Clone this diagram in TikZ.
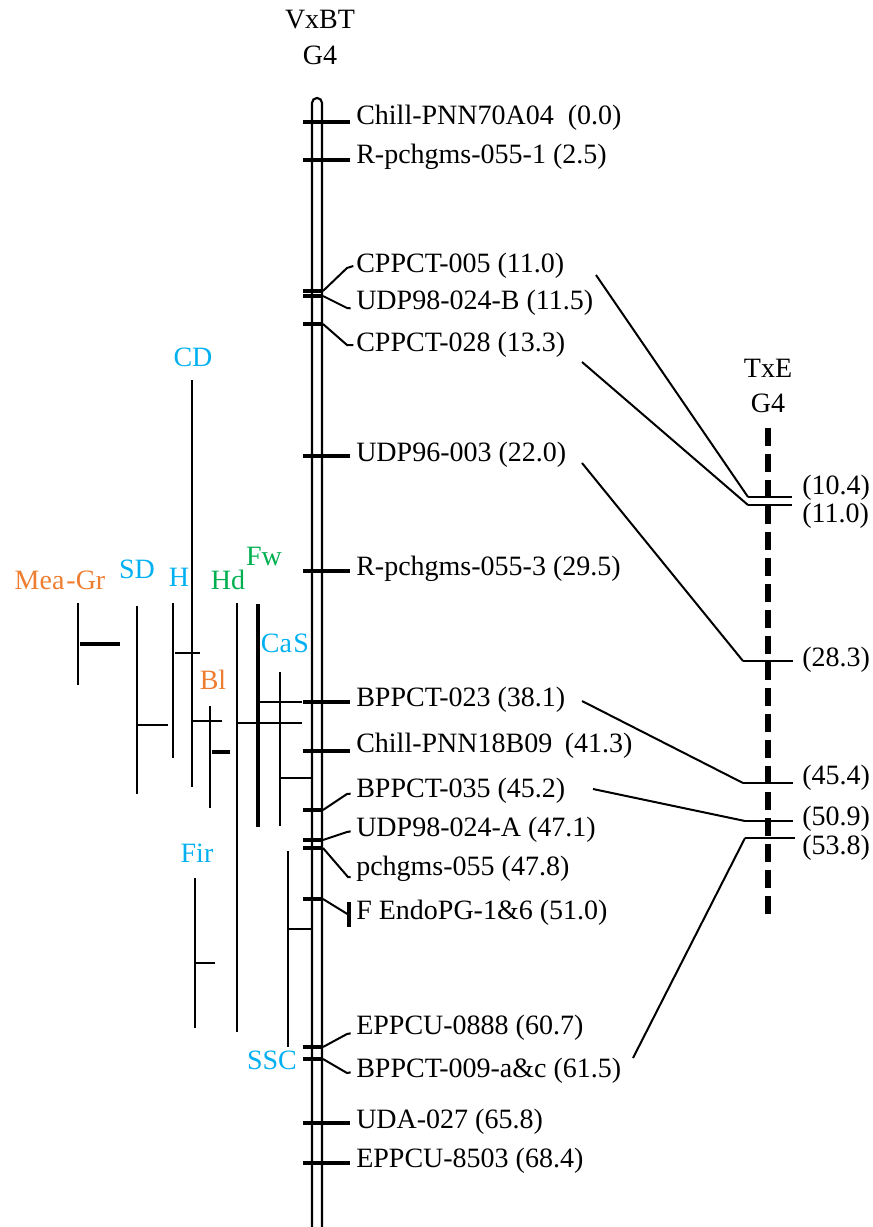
\documentclass[tikz,border=0pt]{standalone}
\usepackage{fontspec}
\setmainfont{Liberation Serif}
\definecolor{qorange}{RGB}{237,125,49}
\definecolor{qcyan}{RGB}{0,176,240}
\definecolor{qgreen}{RGB}{0,176,80}
\begin{document}
\begin{tikzpicture}[x=0.75pt,y=-0.75pt,
  txt/.style={inner sep=0pt,font=\fontsize{21}{24}\selectfont},
  lbl/.style={txt,anchor=west},
  chrom/.style={line width=1.6pt},
  tick/.style={line width=2.6pt},
  link/.style={line width=1.5pt},
  bar/.style={line width=1.7pt},
  thickbar/.style={line width=2.8pt},
  txechrom/.style={line width=5pt,dash pattern=on 13.5pt off 6pt},
  txetick/.style={line width=1.9pt}]
\useasboundingbox (0,0) rectangle (872,1227);

% ---------- map titles ----------
\node[txt] (vxbt) at (320,20) {VxBT};
\node[txt] (vxbtg) at (320,55) {G4};
\node[txt] (txe) at (768,368) {TxE};
\node[txt] (txeg) at (768,403) {G4};

% ---------- VxBT linkage group ----------
\draw[chrom,rounded corners=3.7pt] (312,1232) -- (312,98) -- (322,98) -- (322,1232);

% marker names
\node[lbl] (m1)  at (356,118)  {Chill-PNN70A04\hspace{0.25em} (0.0)};
\node[lbl] (m2)  at (356,157)  {R-pchgms-055-1 (2.5)};
\node[lbl] (m3)  at (356,266)  {CPPCT-005 (11.0)};
\node[lbl] (m4)  at (356,303)  {UDP98-024-B (11.5)};
\node[lbl] (m5)  at (356,345)  {CPPCT-028 (13.3)};
\node[lbl] (m6)  at (356,455)  {UDP96-003 (22.0)};
\node[lbl] (m7)  at (356,569)  {R-pchgms-055-3 (29.5)};
\node[lbl] (m8)  at (356,700)  {BPPCT-023 (38.1)};
\node[lbl] (m9)  at (356,746)  {Chill-PNN18B09\hspace{0.2em} (41.3)};
\node[lbl] (m10) at (356,791)  {BPPCT-035 (45.2)};
\node[lbl] (m11) at (356,830)  {UDP98-024-A (47.1)};
\node[lbl] (m12) at (356,869)  {pchgms-055 (47.8)};
\node[lbl] (m13) at (356,913)  {F EndoPG-1\&6 (51.0)};
\node[lbl] (m14) at (356,1028) {EPPCU-0888 (60.7)};
\node[lbl] (m15) at (356,1071) {BPPCT-009-a\&c (61.5)};
\node[lbl] (m16) at (356,1122) {UDA-027 (65.8)};
\node[lbl] (m17) at (356,1161) {EPPCU-8503 (68.4)};

% straight ticks
\draw[tick] (303,122) -- (350,122);
\draw[tick] (303,160) -- (350,160);
\draw[tick] (303,456) -- (350,456);
\draw[tick] (303,571) -- (350,571);
\draw[tick] (303,702) -- (350,702);
\draw[tick] (303,751) -- (350,751);
\draw[tick] (303,1123) -- (350,1123);
\draw[tick] (303,1163) -- (350,1163);

% ticks with bent leaders
\draw[tick] (303,291) -- (323,291);
\draw[tick] (303,296) -- (323,296);
\draw[tick] (303,324) -- (323,324);
\draw[tick] (303,810) -- (323,810);
\draw[tick] (303,840) -- (323,840);
\draw[tick] (303,848) -- (323,848);
\draw[tick] (303,899) -- (323,899);
\draw[tick] (303,1047) -- (323,1047);
\draw[tick] (303,1059) -- (323,1059);
\draw[link] (323,291) -- (347,268) -- ([xshift=-2pt]m3.west);
\draw[link] (323,296) -- (347,308) -- ([xshift=-4pt,yshift=-4pt]m4.west);
\draw[link] (323,324) -- (347,345) -- ([xshift=-2pt]m5.west);
\draw[link] (323,810) -- (347,794) -- ([xshift=-4pt,yshift=-2pt]m10.west);
\draw[link] (323,840) -- (347,832) -- ([xshift=-4pt,yshift=-1pt]m11.west);
\draw[link] (323,848) -- (348,877) -- ([xshift=-4pt,yshift=-6pt]m12.west);
\draw[link] (323,899) -- (349,915);
\draw[thickbar] (349,902) -- (349,927);
\draw[link] (323,1047) -- (347,1034) -- ([xshift=-4pt,yshift=-4pt]m14.west);
\draw[link] (323,1059) -- (347,1073) -- ([xshift=-4pt,yshift=-1pt]m15.west);

% ---------- QTL intervals ----------
\node[txt,text=qorange] (qmea) at (60,580) {Mea\kern1.5pt-Gr};
\node[txt,text=qcyan]   (qsd)  at (137,569) {SD};
\node[txt,text=qcyan]   (qh)   at (179,577) {H};
\node[txt,text=qcyan]   (qcd)  at (193,357) {CD};
\node[txt,text=qorange] (qbl)  at (213,680) {Bl};
\node[txt,text=qgreen]  (qhd)  at (228,580) {Hd};
\node[txt,text=qgreen]  (qfw)  at (264,556) {Fw};
\node[txt,text=qcyan]   (qcas) at (285,643) {Ca\kern1pt S};
\node[txt,text=qcyan]   (qfir) at (197,853) {Fir};
\node[txt,text=qcyan]   (qssc) at (272,1060) {SSC};

\draw[bar] (78,603) -- (78,685);
\draw[thickbar] (80,644) -- (120,644);
\draw[bar] (137,606) -- (137,794);
\draw[bar] (137,725) -- (168,725);
\draw[bar] (173,603) -- (173,758);
\draw[bar] (175,653) -- (200,653);
\draw[bar] (192,380) -- (192,787);
\draw[bar] (192,721) -- (222,721);
\draw[bar] (210,706) -- (210,808);
\draw[thickbar] (212,752) -- (230,752);
\draw[bar] (237,603) -- (237,1032);
\draw[bar] (238,723) -- (302,723);
\draw[thickbar] (258,604) -- (258,827);
\draw[bar] (259,702) -- (302,702);
\draw[bar] (280,672) -- (280,826);
\draw[bar] (281,778) -- (312,778);
\draw[bar] (195,878) -- (195,1028);
\draw[bar] (195,963) -- (215,963);
\draw[bar] (288,851) -- (288,1047);
\draw[bar] (289,929) -- (312,929);

% ---------- TxE linkage group ----------
\draw[txechrom] (768,428) -- (768,922);

\coordinate (t1) at (748,497);
\coordinate (t2) at (748,505);
\coordinate (t3) at (743,661);
\coordinate (t4) at (743,783);
\coordinate (t5) at (745,821);
\coordinate (t6) at (745,838);

\draw[txetick] (t1) -- (792,497);
\draw[txetick] (t2) -- (792,505);
\draw[txetick] (t3) -- (793,661);
\draw[txetick] (t4) -- (793,783);
\draw[txetick] (t5) -- (793,821);
\draw[txetick] (t6) -- (795,838);

\node[lbl] (p1) at (802,488) {(10.4)};
\node[lbl] (p2) at (802,516) {(11.0)};
\node[lbl] (p3) at (802,660) {(28.3)};
\node[lbl] (p4) at (802,778) {(45.4)};
\node[lbl] (p5) at (802,819) {(50.9)};
\node[lbl] (p6) at (802,848) {(53.8)};

% ---------- links between the two maps ----------
\coordinate (s3)  at (596,275);
\coordinate (s5)  at (582,362);
\coordinate (s6)  at (582,463);
\coordinate (s8)  at (582,701);
\coordinate (s10) at (593,789);
\coordinate (s15) at (633,1058);
\draw[link] (s3) -- (t1);
\draw[link] (s5) -- (t2);
\draw[link] (s6) -- (t3);
\draw[link] (s8) -- (t4);
\draw[link] (s10) -- (t5);
\draw[link] (s15) -- (t6);
\end{tikzpicture}
\end{document}
